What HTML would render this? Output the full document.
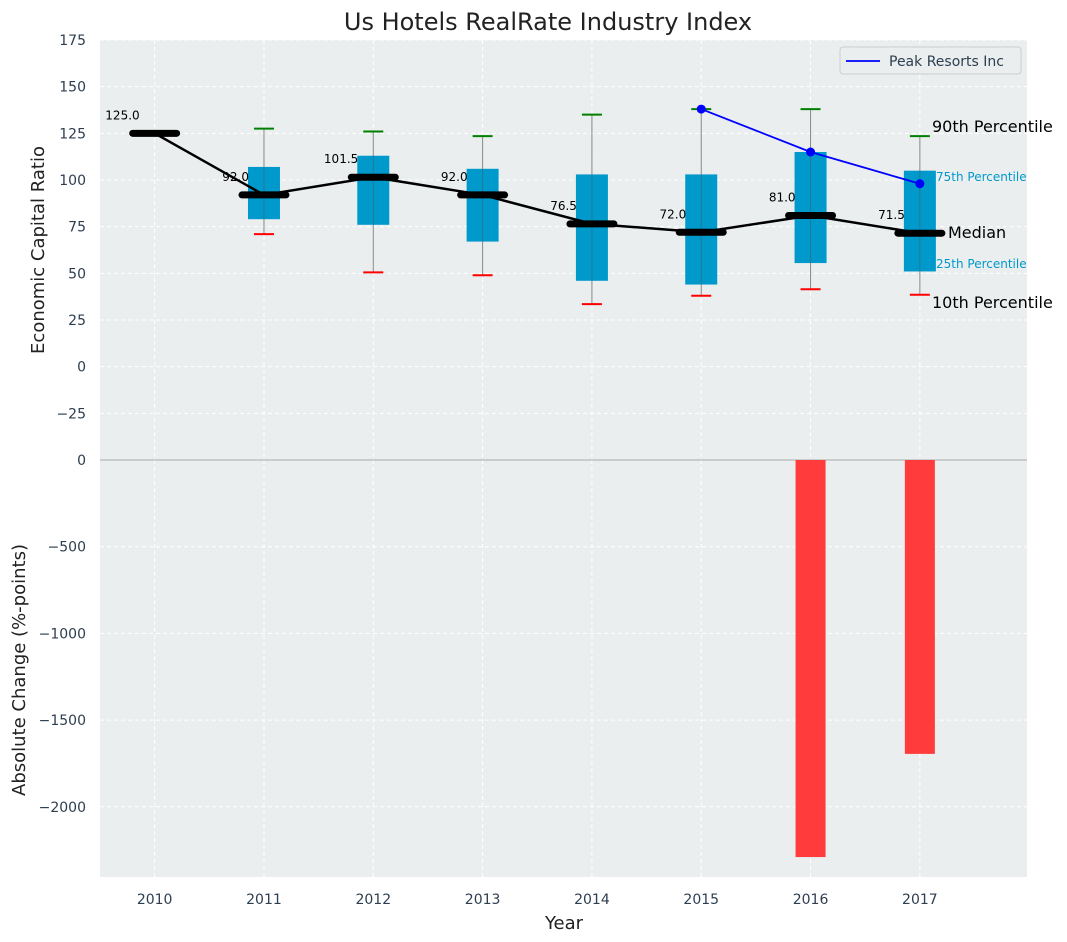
<!DOCTYPE html>
<html><head><meta charset="utf-8"><style>
body{margin:0;background:#fff;}
svg{display:block;font-family:"DejaVu Sans","Liberation Sans",sans-serif;}
</style></head><body>
<svg id="c" width="1067" height="942"></svg>
<script>
const years=[2010,2011,2012,2013,2014,2015,2016,2017];
const medians=[125,92,101.5,92,76.5,72,81,71.5];
const q1=[125,79,76,67,46,44,55.5,51];
const q3=[125,107,113,106,103,103,115,105];
const p10=[null,71,50.5,49,33.5,38,41.5,38.5];
const p90=[null,127.5,126,123.5,135,138,138,123.5];
const peakYears=[2015,2016,2017];
const peakVals=[138,115,98];
const changeYears=[2016,2017];
const changeVals=[-2290,-1695];
const topTicks=[-25,0,25,50,75,100,125,150,175];
const botTicks=[-2000,-1500,-1000,-500,0];

const NS="http://www.w3.org/2000/svg";
const svg=document.getElementById('c');
function mk(t,a,p){const e=document.createElementNS(NS,t);for(const k in a)e.setAttribute(k,a[k]);(p||svg).appendChild(e);return e;}
const L=100,R=1027,T=40,M=460,B=877;
const x=v=>L+(v-2009.5)*(R-L)/(2017.98-2009.5);
const yT=v=>M-(v+50)*(M-T)/225;
const yB=v=>M-v*(B-M)/(-2405)*-1;
const yb=v=>M+(-v)*(B-M)/2405;

let bg=mk('rect',{x:L,y:T,width:R-L,height:B-T,fill:'#eaeeef'});

// grid
years.forEach(v=>{mk('line',{x1:x(v),x2:x(v),y1:T,y2:B,stroke:'#fff','stroke-dasharray':'4,3','stroke-width':1});});
topTicks.forEach(v=>{mk('line',{x1:L,x2:R,y1:yT(v),y2:yT(v),stroke:'#fff','stroke-dasharray':'4,3'});
 const t=mk('text',{x:L-14,y:yT(v)+5,'text-anchor':'end','font-size':14,fill:'#2d3e50'});t.textContent=v<0?'\u2212'+(-v):v;
 });
botTicks.forEach(v=>{if(v!==0)mk('line',{x1:L,x2:R,y1:yb(v),y2:yb(v),stroke:'#fff','stroke-dasharray':'4,3'});
 const t=mk('text',{x:L-14,y:yb(v)+5,'text-anchor':'end','font-size':14,fill:'#2d3e50'});t.textContent=v<0?'\u2212'+(-v):v;
 });
mk('line',{x1:L,x2:R,y1:M,y2:M,stroke:'#aaa','stroke-width':1});
years.forEach(v=>{const t=mk('text',{x:x(v),y:904,'text-anchor':'middle','font-size':14,fill:'#2d3e50'});t.textContent=v;
 });

// bars
changeYears.forEach((v,i)=>{const r=mk('rect',{x:x(v)-15,y:M,width:30,height:yb(changeVals[i])-M,fill:'#ff3b3b'});
 });

// boxes
years.forEach((v,i)=>{const cx=x(v);
 if(p10[i]!=null){
  const w=mk('line',{x1:cx,x2:cx,y1:yT(p90[i]),y2:yT(p10[i]),stroke:'#888','stroke-width':1});
  
 }
 if(q3[i]>q1[i]){const b=mk('rect',{x:cx-16,y:yT(q3[i]),width:32,height:yT(q1[i])-yT(q3[i]),fill:'#0099cc'});
  
  mk('line',{x1:cx,x2:cx,y1:yT(q3[i]),y2:yT(q1[i]),stroke:'#555','stroke-width':1,opacity:0.5});}
 if(p10[i]!=null){
  const a=mk('line',{x1:cx-10,x2:cx+10,y1:yT(p90[i]),y2:yT(p90[i]),stroke:'green','stroke-width':2});
  
  const b=mk('line',{x1:cx-10,x2:cx+10,y1:yT(p10[i]),y2:yT(p10[i]),stroke:'red','stroke-width':2});
  
 }
});
// median line
const ml=mk('polyline',{points:years.map((v,i)=>x(v)+','+yT(medians[i])).join(' '),fill:'none',stroke:'#000','stroke-width':2.5});

years.forEach((v,i)=>{const m=mk('line',{x1:x(v)-22,x2:x(v)+22,y1:yT(medians[i]),y2:yT(medians[i]),stroke:'#000','stroke-width':7,'stroke-linecap':'round'});
 
 const t=mk('text',{x:x(v)-15,y:yT(medians[i])-14,'text-anchor':'end','font-size':12,fill:'#000'});t.textContent=medians[i].toFixed(1);
 });
// peak
const pl=mk('polyline',{points:peakYears.map((v,i)=>x(v)+','+yT(peakVals[i])).join(' '),fill:'none',stroke:'blue','stroke-width':1.8});

peakYears.forEach((v,i)=>{const c=mk('circle',{cx:x(v),cy:yT(peakVals[i]),r:4.5,fill:'blue'});
 });

// percentile annotations
const ann=[['90th Percentile',932,132,16,'#000'],['75th Percentile',936,181,12,'#0099cc'],['Median',948,238,16,'#000'],['25th Percentile',936,268,12,'#0099cc'],['10th Percentile',932,308,16,'#000']];
ann.forEach(a=>{const t=mk('text',{x:a[1],y:a[2],'font-size':a[3],fill:a[4]});t.textContent=a[0];
 });

// legend
const lg=mk('g',{});
mk('rect',{x:840,y:47,width:181,height:27,rx:3,fill:'#eaeeef',stroke:'#ccc'},lg);
mk('line',{x1:846,x2:880,y1:61,y2:61,stroke:'blue','stroke-width':1.8},lg);
const lt=mk('text',{x:889,y:66,'font-size':14,fill:'#2d3e50'},lg);lt.textContent='Peak Resorts Inc';

// titles
let t=mk('text',{x:548,y:30,'text-anchor':'middle','font-size':24,fill:'#222'});t.textContent='Us Hotels RealRate Industry Index';

t=mk('text',{x:564,y:929,'text-anchor':'middle','font-size':18,fill:'#222'});t.textContent='Year';

t=mk('text',{x:0,y:0,'text-anchor':'middle','font-size':18,fill:'#222',transform:'translate(44,250) rotate(-90)'});t.textContent='Economic Capital Ratio';

t=mk('text',{x:0,y:0,'text-anchor':'middle','font-size':18,fill:'#222',transform:'translate(25,670) rotate(-90)'});t.textContent='Absolute Change (%-points)';

</script>
</body></html>
